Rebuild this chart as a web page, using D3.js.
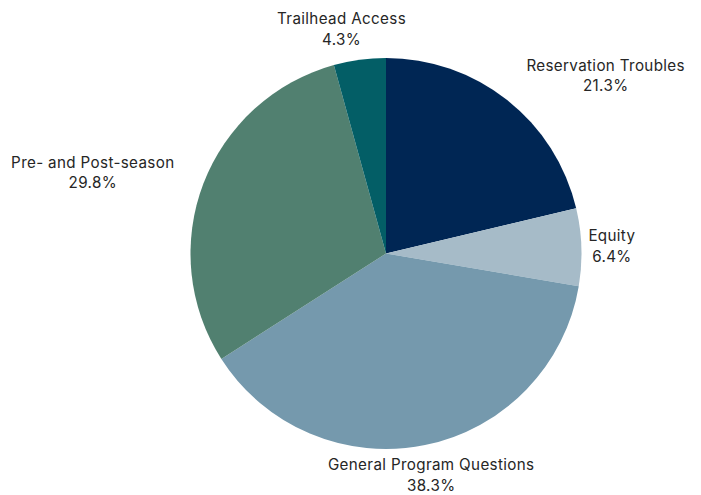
<!DOCTYPE html>
<html>
<head>
<meta charset="utf-8">
<script src="https://cdn.jsdelivr.net/npm/d3@7"></script>
<style>
  html, body { margin: 0; padding: 0; background: #ffffff; }
  svg text { font-family: "Inter", "Open Sans", sans-serif; fill: #262626; }
</style>
</head>
<body>
<svg id="chart" width="701" height="495"></svg>
<script>
// Share of inquiries by topic (percent), clockwise from 12 o'clock
const categories = ["Reservation Troubles", "Equity", "General Program Questions", "Pre- and Post-season", "Trailhead Access"];
const values = [21.3, 6.4, 38.3, 29.8, 4.3];
const colors = ["#002654", "#a6bbc8", "#7599ad", "#518070", "#035e66"];

// Small label adjustments (px) so labels sit clear of neighbours
const labelNudge = { "Equity": -24, "Trailhead Access": -14 };

const width = 701, height = 495;
const cx = 386, cy = 253.5, radius = 195.5;
const labelRadius = 226.5;

const svg = d3.select("#chart");
const g = svg.append("g").attr("transform", `translate(${cx},${cy})`);

const data = categories.map((c, i) => ({ name: c, value: values[i], color: colors[i] }));

const pie = d3.pie().value(d => d.value).sort(null);
const arc = d3.arc().innerRadius(0).outerRadius(radius);
const arcs = pie(data);

g.selectAll("path.slice")
  .data(arcs)
  .join("path")
  .attr("class", "slice")
  .attr("d", arc)
  .attr("fill", d => d.data.color);

const fmt = d3.format(".1f");

g.selectAll("text.label")
  .data(arcs)
  .join("text")
  .attr("class", "label")
  .attr("font-size", 15.2)
  .attr("letter-spacing", 0.35)
  .attr("text-anchor", "middle")
  .each(function(d) {
    const a = (d.startAngle + d.endAngle) / 2;
    const s = Math.sin(a), c = Math.cos(a);
    const ax = labelRadius * s + (labelNudge[d.data.name] || 0);
    const y = -labelRadius * c;
    const t = d3.select(this);
    const name = t.append("tspan").attr("y", y - 5).text(d.data.name);
    const pct = t.append("tspan").attr("y", y + 15.5).text(fmt(d.data.value) + "%");
    // label box is centred on the anchor, or hangs off it on the left/right sides
    const w = Math.max(name.node().getComputedTextLength(), pct.node().getComputedTextLength());
    let x = ax;
    if (s > 0.3) x = ax + w / 2;
    else if (s < -0.3) x = ax - w / 2;
    name.attr("x", x);
    pct.attr("x", x);
  });
</script>
</body>
</html>
